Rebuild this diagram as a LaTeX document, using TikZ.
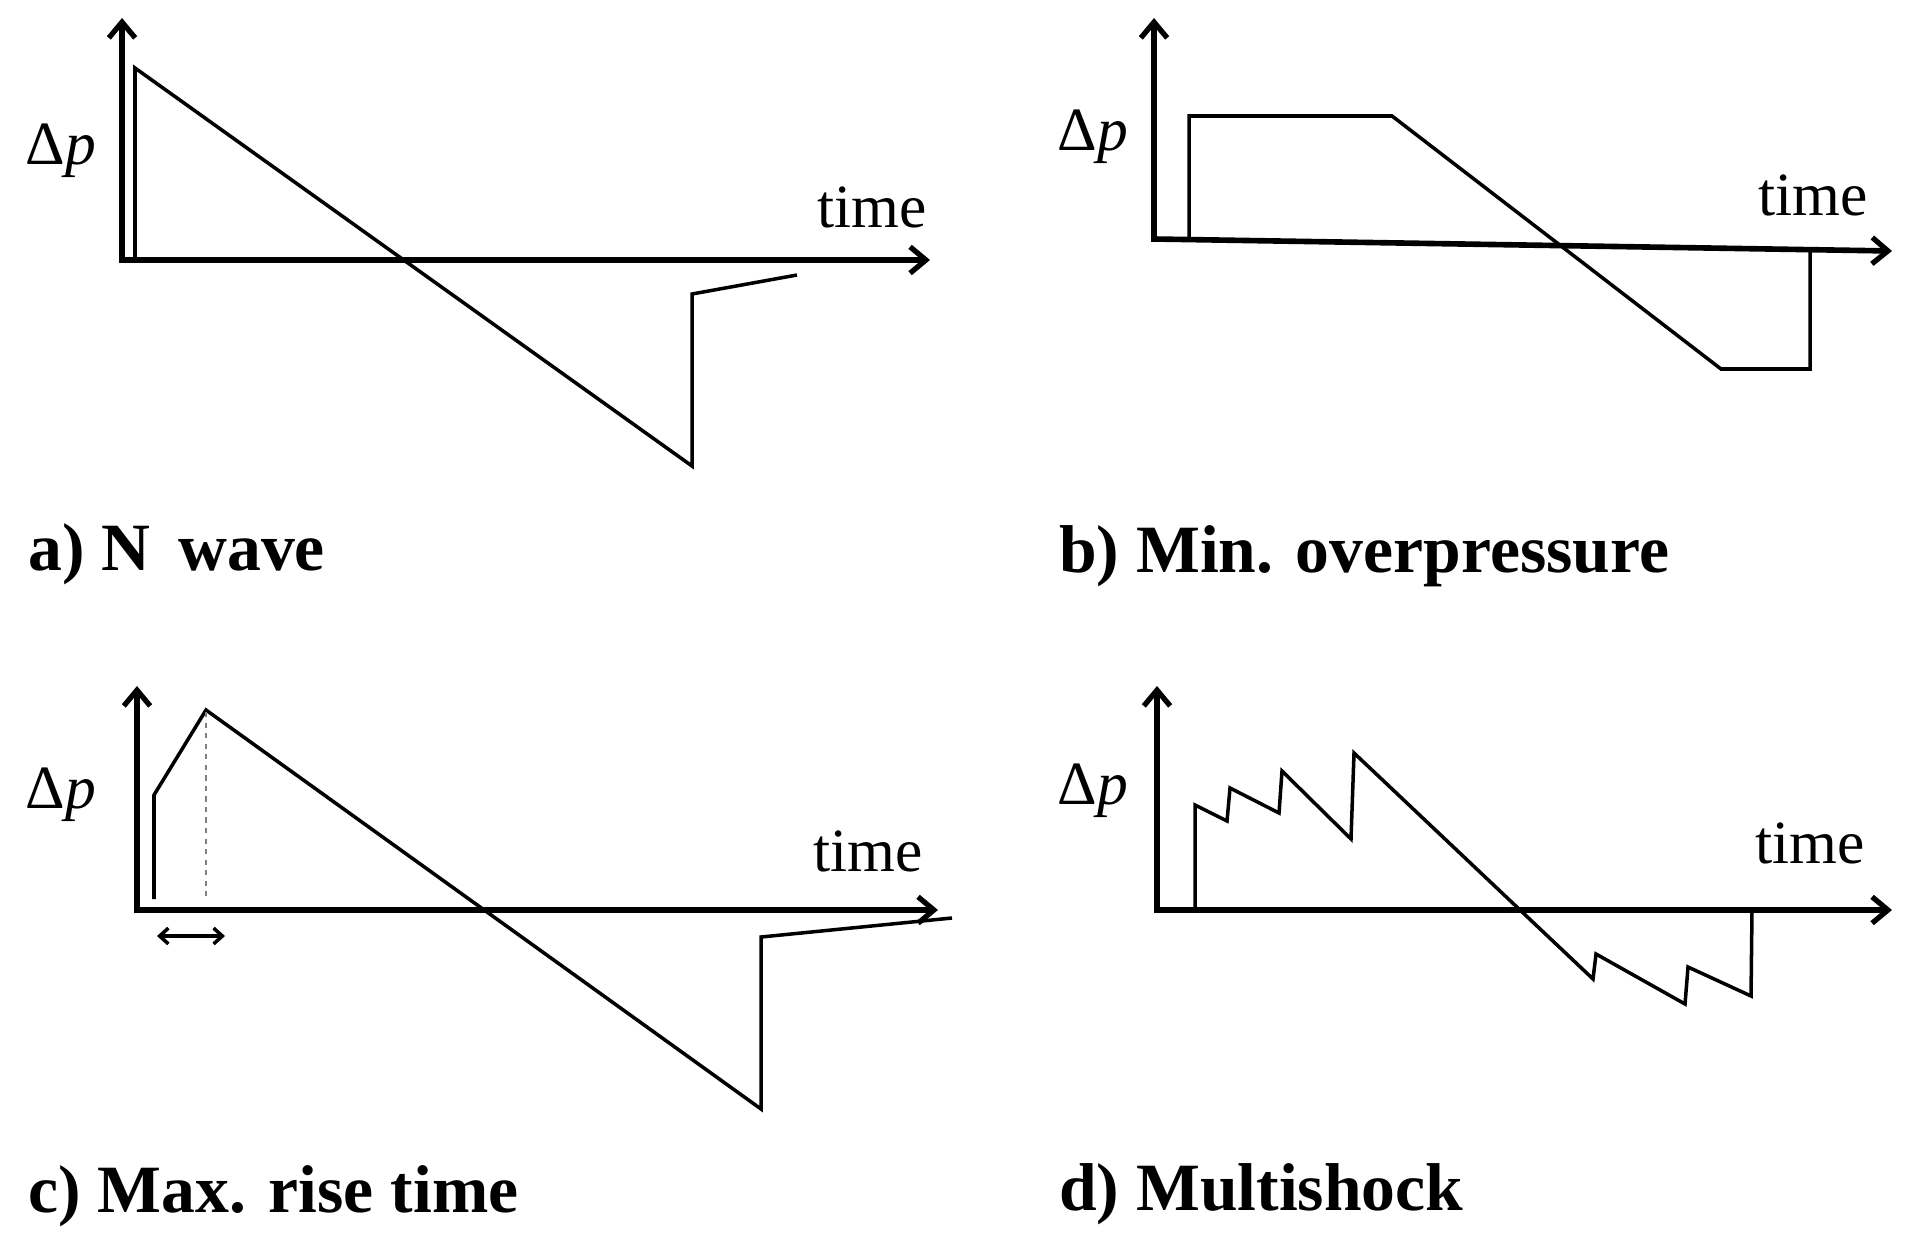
\documentclass[tikz,border=0pt]{standalone}
\usepackage{fontspec}
\setmainfont{Liberation Serif}
\usetikzlibrary{arrows.meta}
\begin{document}
\begin{tikzpicture}[x=0.02cm,y=-0.02cm,
  tip/.tip={Straight Barb[length=9pt,width=15pt,line width=3pt]},
  axis/.style={line width=3.2pt,tip-tip,line join=miter},
  sig/.style={line width=2pt,line join=miter},
  lab/.style={font=\fontsize{35}{40}\selectfont},
  ttl/.style={font=\fontsize{38.5}{44}\selectfont\bfseries,anchor=west}]
\useasboundingbox (0,0) rectangle (1912,1247);
% a
\coordinate (ay) at (122,18);
\coordinate (ao) at (122,260);
\coordinate (ax) at (930,260);
\draw[sig] (135,260) -- (135,68) -- (692,466) -- (692,294) -- (797,275);
\draw[axis] (ay) -- (ao) -- (ax);
\node[lab] (adp) at (61,151) {Δ\textit{p}};
\node[lab] (at) at (872,207) {time};
\node[ttl] (al) at (22,554) {a) N\, wave};
% b
\coordinate (by) at (1154,18);
\coordinate (bo) at (1154,239);
\coordinate (bx) at (1892,251);
\draw[sig] (1189,240) -- (1189,116) -- (1392,116) -- (1721,369) -- (1810,369) -- (1810,250);
\draw[axis] (by) -- (bo) -- (bx);
\node[lab] (bdp) at (1093,137) {Δ\textit{p}};
\node[lab] (bt) at (1813,195) {time};
\node[ttl] (bl) at (1053,556) {b) Min. overpressure};
% c
\coordinate (cy) at (137,686);
\coordinate (co) at (137,910);
\coordinate (cx) at (938,910);
\draw[sig] (154,899) -- (154,795) -- (206,710) -- (761,1109) -- (761,937) -- (952,918);
\draw[line width=0.9pt,dashed,gray] (206,712) -- (206,899);
\draw[axis] (cy) -- (co) -- (cx);
\coordinate (c1) at (157,936);
\coordinate (c2) at (225,936);
\draw[line width=2pt,{Straight Barb[length=5pt,width=9pt]}-{Straight Barb[length=5pt,width=9pt]}] (c1) -- (c2);
\node[lab] (cdp) at (61,795) {Δ\textit{p}};
\node[lab] (ct) at (868,851) {time};
\node[ttl] (cl) at (22,1196) {c) Max. rise time};
% d
\coordinate (dy) at (1157,686);
\coordinate (do) at (1157,910);
\coordinate (dx) at (1892,910);
\draw[sig] (1195,910) -- (1195,805) -- (1227,821) -- (1230,788) -- (1279,813) -- (1282,771)
  -- (1351,839) -- (1354,753) -- (1593,979) -- (1596,954) -- (1685,1004) -- (1688,967)
  -- (1751,996) -- (1752,910);
\draw[axis] (dy) -- (do) -- (dx);
\node[lab] (ddp) at (1093,791) {Δ\textit{p}};
\node[lab] (dt) at (1810,843) {time};
\node[ttl] (dl) at (1053,1194) {d) Multishock};
\end{tikzpicture}
\end{document}
